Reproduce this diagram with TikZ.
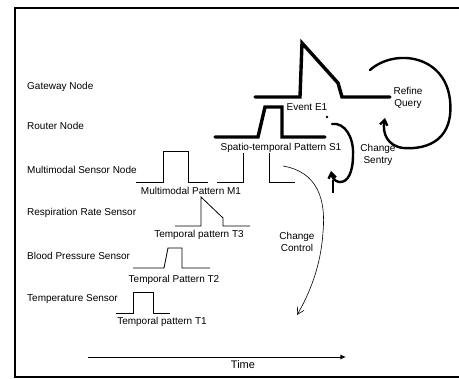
\documentclass[tikz,border=0pt]{standalone}
\usepackage{fontspec}
\setmainfont{Liberation Sans}
\usetikzlibrary{arrows.meta,positioning}
\tikzset{
  >={Stealth[length=2.2mm]},
  rowlbl/.style={anchor=west,font=\fontsize{10}{11}\selectfont,inner sep=0pt,
    text height=7pt,text depth=2pt},
  patlbl/.style={font=\fontsize{10}{11}\selectfont,inner sep=0.5pt,
    text height=7pt,text depth=2pt},
  notelbl/.style={font=\fontsize{10}{12}\selectfont,align=center,inner sep=0.5pt},
  thinsig/.style={line width=0.8pt,line join=miter},
  thicksig/.style={line width=3.4pt,line cap=round},
  loopar/.style={line width=2.4pt,line cap=round,-{Straight Barb[length=1.8mm,width=2.6mm]}},
  ctlar/.style={line width=0.6pt,-{Straight Barb[length=2.4mm,width=2.6mm]}},
}
\begin{document}
\begin{tikzpicture}[x=1pt,y=-1pt]
  \useasboundingbox (0,0) rectangle (459,379);
  % frame
  \draw[line width=2pt] (459,8) -- (15,8) -- (15,377) -- (459,377);

  % row labels
  \node[rowlbl] (gw)   at (27,87)  {Gateway Node};
  \node[rowlbl] (rt)   at (27,127) {Router Node};
  \node[rowlbl] (mm)   at (27,171) {Multimodal Sensor Node};
  \node[rowlbl] (resp) at (27,213) {Respiration Rate Sensor};
  \node[rowlbl] (bp)   at (27,257) {Blood Pressure Sensor};
  \node[rowlbl] (temp) at (27,299) {Temperature Sensor};

  % signals
  \draw[thicksig] (255,97) -- (300,97) -- (302,43) -- (338,83) -- (342,97) -- (390,97);
  \draw[thicksig] (215,137) -- (258,137) -- (265,107) -- (282,107) -- (282,137) -- (325,137);
  \draw[thinsig] (136,182) -- (163,182) -- (163,151) -- (188,151) -- (188,182) -- (208,182);
  \draw[thinsig] (217,182) -- (243,182) -- (243,153);
  \draw[thinsig] (269,153) -- (269,182) -- (295,182);
  \draw[thinsig] (175,226) -- (201,226) -- (201,197) -- (223,218) -- (223,226) -- (250,226);
  \draw[thinsig] (133,268) -- (164,268) -- (168,248) -- (182,248) -- (182,268) -- (210,268);
  \draw[thinsig] (116,313) -- (133,313) -- (133,292) -- (153,292) -- (153,313) -- (170,313);

  % pattern labels
  \node[patlbl] (e1) at (307,108) {Event E1};
  \node[patlbl] (s1) at (281,148) {Spatio-temporal Pattern S1};
  \node[patlbl] (m1) at (191,192) {Multimodal Pattern M1};
  \node[patlbl] (t3) at (199,235) {Temporal pattern T3};
  \node[patlbl] (t2) at (174,280) {Temporal Pattern T2};
  \node[patlbl] (t1) at (162,322) {Temporal pattern T1};

  % feedback loops
  \node[notelbl] (rq) at (408,98)  {Refine\\Query};
  \node[notelbl] (cs) at (378,155) {Change\\Sentry};
  \node[notelbl] (cc) at (297,242) {Change\\Control};
  \coordinate (rqa) at (370,70);
  \coordinate (rqb) at (385,118);
  \coordinate (csa) at (332,124);
  \coordinate (csb) at (331,171);
  \coordinate (cca) at (283,166);
  \coordinate (ccb) at (297,315);
  \draw[loopar] (rqa) .. controls (395,48) and (445,55) .. (450,100)
    .. controls (454,138) and (430,150) .. (403,148)
    .. controls (388,146) and (382,134) .. (rqb);
  \fill (327,117) circle (1.3);
  \draw[loopar] (csa) .. controls (345,122) and (354,138) .. (353,155)
    .. controls (353,172) and (348,183) .. (339,182)
    .. controls (334,181) and (332,177) .. (csb);
  \draw[line width=2pt] (333,180) -- (333,193);
  \draw[ctlar] (cca) .. controls (318,172) and (326,200) .. (323,232)
    .. controls (321,265) and (310,293) .. (ccb);

  % time axis
  \coordinate (ta) at (88,357);
  \coordinate (tb) at (346,357);
  \draw[line width=0.9pt,-{Latex[length=2mm,width=1.8mm]}] (ta) -- (tb);
  \node[patlbl,font=\fontsize{11}{12}\selectfont] (time) at (243,366) {Time};
\end{tikzpicture}
\end{document}
